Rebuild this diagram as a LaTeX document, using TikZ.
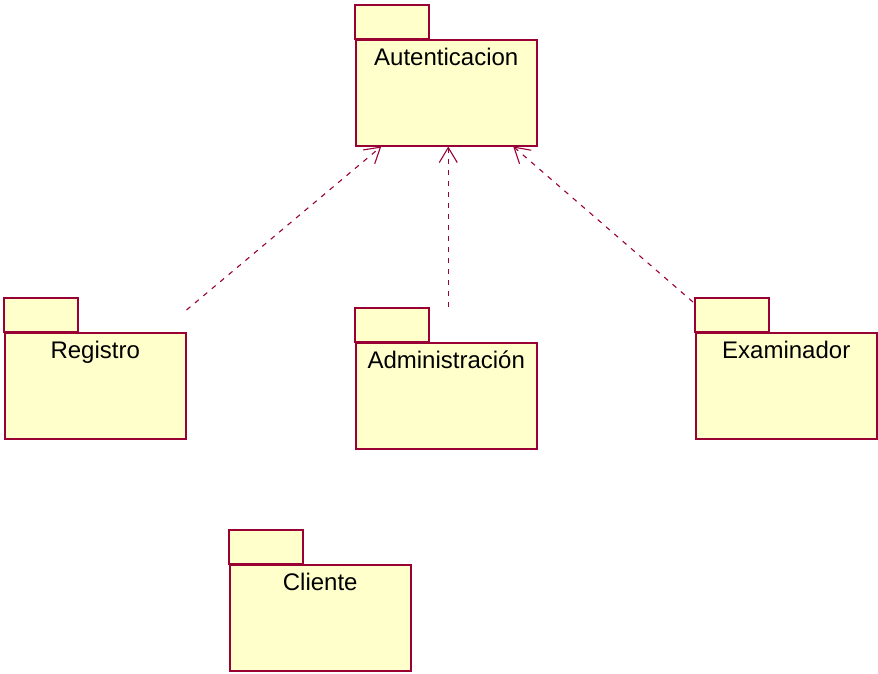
\documentclass[tikz,border=0pt]{standalone}
\usepackage{fontspec}
\setmainfont{Liberation Sans}
\usetikzlibrary{arrows.meta}
\definecolor{pkgline}{RGB}{153,0,51}
\definecolor{pkgfill}{RGB}{255,255,204}
\begin{document}
\begin{tikzpicture}[x=1pt,y=-1pt,
  pkgbody/.style={draw=pkgline,fill=pkgfill,line width=1.5pt,
    minimum width=181pt,minimum height=106pt,inner sep=0pt,anchor=north west},
  pkgtab/.style={draw=pkgline,fill=pkgfill,line width=1.5pt},
  pkgname/.style={font=\fontsize{24}{28}\selectfont,anchor=base,yshift=-26pt},
  depend/.style={draw=pkgline,line width=1.1pt,dash pattern=on 5pt off 6pt,
    -{Straight Barb[length=15pt,width=18pt,line width=1.1pt]}}]
\useasboundingbox (0,0) rectangle (878,673);

% package: tab on top of a body, name near the top of the body
\newcommand{\umlpackage}[4]{%
  \draw[pkgtab] (#2,#3-34) rectangle (#2+74,#3);
  \node[pkgbody,label={[pkgname]north:#4}] (#1) at (#2,#3) {};
}

\umlpackage{aut}{355}{39}{Autenticacion}
\umlpackage{reg}{4}{332}{Registro}
\umlpackage{adm}{355}{342}{Administración}
\umlpackage{exa}{695}{332}{Examinador}
\umlpackage{cli}{229}{564}{Cliente}

% dependency end points
\coordinate (regOut) at ([yshift=22pt]reg.north east);
\coordinate (admOut) at ([xshift=2pt,yshift=35pt]adm.north);
\coordinate (exaOut) at ([xshift=-2pt,yshift=30pt]exa.north west);
\coordinate (autInL) at ([xshift=-65pt]aut.south);
\coordinate (autInM) at ([xshift=2pt]aut.south);
\coordinate (autInR) at ([xshift=67pt]aut.south);

\draw[depend] (regOut) -- (autInL);
\draw[depend] (admOut) -- (autInM);
\draw[depend] (exaOut) -- (autInR);
\end{tikzpicture}
\end{document}
